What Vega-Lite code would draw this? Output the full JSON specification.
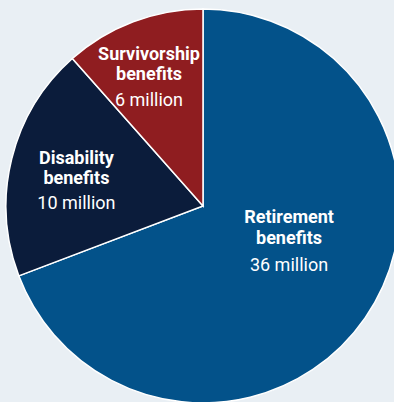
{
  "$schema": "https://vega.github.io/schema/vega-lite/v6.json",
  "width": 406,
  "height": 412,
  "autosize": {"type": "none"},
  "padding": 0,
  "background": "#e9eff4",
  "config": {"view": {"stroke": null}, "text": {"font": "Roboto", "fontSize": 18, "fill": "#ffffff", "align": "center", "baseline": "alphabetic"}},
  "data": {
    "values": [
      {"key": "Retirement", "name": "Retirement\nbenefits", "amount": "36 million", "value": 36, "rank": 1},
      {"key": "Disability", "name": "Disability\nbenefits", "amount": "10 million", "value": 10, "rank": 2},
      {"key": "Survivorship", "name": "Survivorship\nbenefits", "amount": "6 million", "value": 6, "rank": 3}
    ]
  },
  "encoding": {
    "theta": {"field": "value", "type": "quantitative", "stack": true},
    "order": {"field": "rank", "type": "quantitative", "sort": "ascending"}
  },
  "layer": [
    {
      "mark": {"type": "arc", "outerRadius": 197, "stroke": "#ffffff", "strokeWidth": 1.5},
      "encoding": {
        "color": {
          "field": "key", "type": "nominal", "legend": null,
          "scale": {"domain": ["Retirement", "Disability", "Survivorship"], "range": ["#03528a", "#0b1c3b", "#8f1d20"]}
        }
      }
    },
    {
      "mark": {"type": "text", "radius": 104.5, "dy": -42, "lineBreak": "\n", "lineHeight": 21, "fontWeight": "bold"},
      "encoding": {"text": {"condition": {"test": "datum.key === 'Retirement'", "field": "name"}, "value": ""}}
    },
    {
      "mark": {"type": "text", "radius": 104.5, "dy": 5.2, "fontWeight": "normal"},
      "encoding": {"text": {"condition": {"test": "datum.key === 'Retirement'", "field": "amount"}, "value": ""}}
    },
    {
      "mark": {"type": "text", "radius": 130.4, "dy": -10.9, "lineBreak": "\n", "lineHeight": 20, "fontWeight": "bold"},
      "encoding": {"text": {"condition": {"test": "datum.key === 'Disability'", "field": "name"}, "value": ""}}
    },
    {
      "mark": {"type": "text", "radius": 130.4, "dy": 34.7, "fontWeight": "normal"},
      "encoding": {"text": {"condition": {"test": "datum.key === 'Disability'", "field": "amount"}, "value": ""}}
    },
    {
      "mark": {"type": "text", "radius": 152.3, "dy": -3.6, "lineBreak": "\n", "lineHeight": 20, "fontWeight": "bold"},
      "encoding": {"text": {"condition": {"test": "datum.key === 'Survivorship'", "field": "name"}, "value": ""}}
    },
    {
      "mark": {"type": "text", "radius": 152.3, "dy": 42.4, "fontWeight": "normal"},
      "encoding": {"text": {"condition": {"test": "datum.key === 'Survivorship'", "field": "amount"}, "value": ""}}
    }
  ]
}
